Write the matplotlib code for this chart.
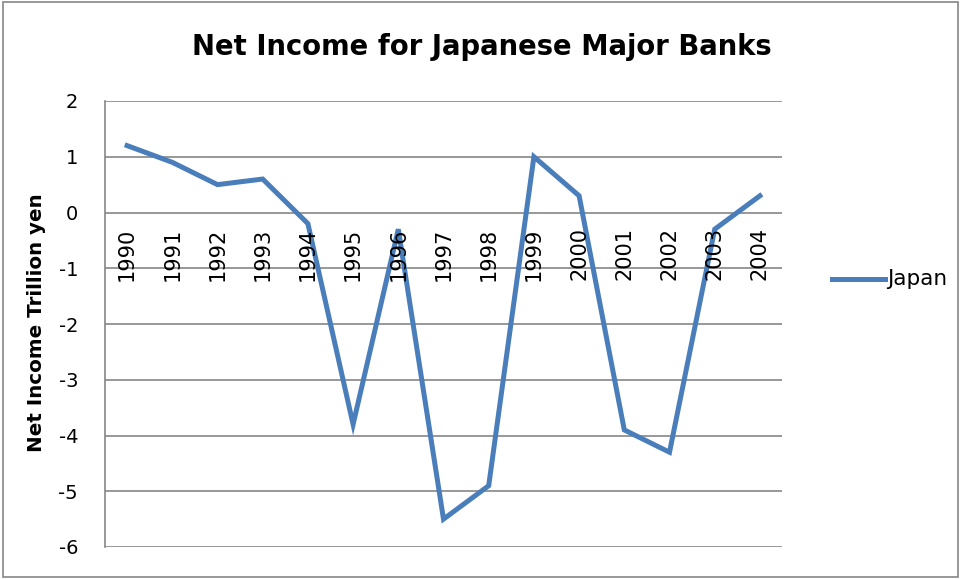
import matplotlib.pyplot as plt
from matplotlib.patches import Rectangle
from matplotlib.lines import Line2D
import matplotlib.transforms as mtransforms

plt.rcParams['font.family'] = ['DejaVu Sans']

years = ['1990', '1991', '1992', '1993', '1994', '1995', '1996', '1997',
         '1998', '1999', '2000', '2001', '2002', '2003', '2004']
japan = [1.2, 0.9, 0.5, 0.6, -0.2, -3.8, -0.3, -5.5,
         -4.9, 1.0, 0.3, -3.9, -4.3, -0.3, 0.3]
yticks = [2, 1, 0, -1, -2, -3, -4, -5, -6]

W, H = 962, 579
fig = plt.figure(figsize=(W / 100, H / 100), dpi=100)
ax = fig.add_axes([104.5 / W, (H - 547) / H, (782.5 - 104.5) / W, (547 - 101) / H])

blue = '#4A7EBB'
grid = '#868686'

x = range(len(years))
ax.plot(x, japan, color=blue, lw=3.6, solid_joinstyle='miter', zorder=3)

ax.set_xlim(-0.5, len(years) - 0.5)
ax.set_ylim(-6, 2)
ax.set_yticks(yticks)
ax.set_yticklabels([str(v) for v in yticks], fontsize=14)
ax.tick_params(axis='y', length=0, pad=19)
ax.set_xticks([])
for v in yticks:
    ax.axhline(v, color=grid, lw=1.2, zorder=1)
for s in ['top', 'right', 'bottom']:
    ax.spines[s].set_visible(False)
ax.spines['left'].set_color(grid)
ax.spines['left'].set_linewidth(1.2)

# category labels hang just below the zero line
off = mtransforms.offset_copy(ax.transData, fig=fig, x=0, y=-15, units='dots')
for i, lab in enumerate(years):
    ax.text(i, 0, lab, transform=off, rotation=90, ha='center', va='top',
            fontsize=15, zorder=4)

fig.text(482 / W, 1 - 47 / H, 'Net Income for Japanese Major Banks',
         ha='center', va='center', fontsize=19.8, fontweight='bold')
fig.text(37 / W, 1 - 323 / H, 'Net Income Trillion yen', rotation=90,
         ha='center', va='center', fontsize=14.3, fontweight='bold')

# legend
fig.add_artist(Line2D([832 / W, 885 / W], [1 - 279 / H, 1 - 279 / H],
                      color=blue, lw=3.6, transform=fig.transFigure))
fig.text(887 / W, 1 - 279 / H, 'Japan', ha='left', va='center', fontsize=15.5)

fig.add_artist(Rectangle((3 / W, 2 / H), (958 - 3) / W, (577 - 2) / H,
                         transform=fig.transFigure, fill=False,
                         edgecolor=grid, lw=1.2))

fig.savefig('out.png', dpi=100)
